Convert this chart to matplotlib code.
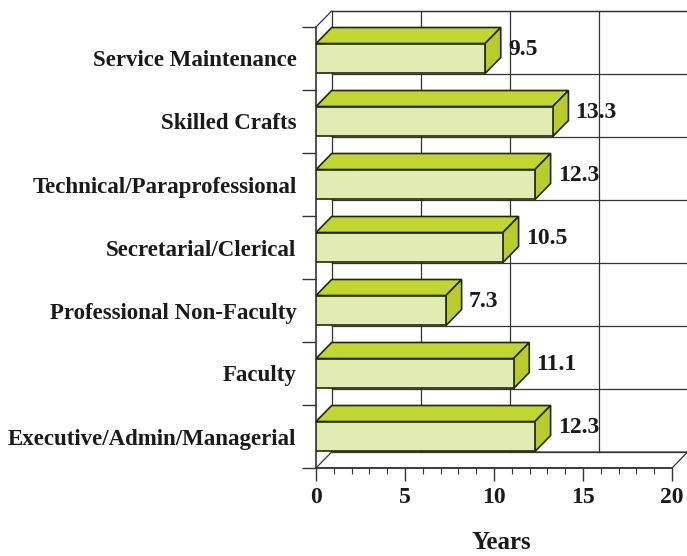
import numpy as np
import matplotlib
matplotlib.use("Agg")
from matplotlib import pyplot as plt
from matplotlib.patches import Polygon, Rectangle

# data, bottom to top
categories = ["Executive/Admin/Managerial", "Faculty", "Professional Non-Faculty",
              "Secretarial/Clerical", "Technical/Paraprofessional", "Skilled Crafts",
              "Service Maintenance"]
years = [12.3, 11.1, 7.3, 10.5, 12.3, 13.3, 9.5]
xticks = [0, 5, 10, 15, 20]

plt.rcParams["font.family"] = ["Liberation Serif", "DejaVu Serif"]
plt.rcParams["font.weight"] = "bold"

front_c = "#e2ebb3"
top_c = "#c3d52f"
side_c = "#b9cc2b"
edge_c = "#1d2a0b"
grid_c = "#333333"

dx = 0.88      # depth in x units
dy = 0.254     # depth in category units
h = 0.476      # bar thickness
n = len(categories)
ybot, ytop = -0.5, n - 0.5
xmax = 20

fig = plt.figure(figsize=(6.87, 5.56), dpi=100)
ax = fig.add_axes([316 / 687, 88 / 556, 1 - 316 / 687, (468 - 9) / 556])
ax.set_xlim(0, 371 / 17.8)
ax.set_ylim(ybot, ybot + 459 / 63)

# walls and floor
lw = 0.9
ax.plot([dx, xmax + dx], [ytop + dy, ytop + dy], color=grid_c, lw=lw, clip_on=False)
ax.plot([0, dx], [ytop, ytop + dy], color=grid_c, lw=lw, clip_on=False)
ax.plot([dx, dx], [ybot + dy, ytop + dy], color=grid_c, lw=lw, clip_on=False)
for k in range(n + 1):
    yb = ybot + k
    ax.plot([dx, xmax + dx], [yb + dy, yb + dy], color=grid_c, lw=lw, clip_on=False)
for xt in xticks[1:]:
    ax.plot([xt + dx, xt + dx], [ybot + dy, ytop + dy], color=grid_c, lw=lw, clip_on=False)
floor = Polygon([(0, ybot), (xmax, ybot), (xmax + dx, ybot + dy), (dx, ybot + dy)],
                closed=True, facecolor="white", edgecolor=grid_c, lw=lw, clip_on=False)
ax.add_patch(floor)
ax.plot([0, 0], [ybot, ytop], color=grid_c, lw=1.2, clip_on=False)

# bars
for i, v in enumerate(years):
    y0, y1 = i - h / 2, i + h / 2
    ax.add_patch(Polygon([(0, y1), (v, y1), (v + dx, y1 + dy), (dx, y1 + dy)],
                         closed=True, facecolor=top_c, edgecolor=edge_c, lw=1.2, zorder=3))
    ax.add_patch(Polygon([(v, y0), (v + dx, y0 + dy), (v + dx, y1 + dy), (v, y1)],
                         closed=True, facecolor=side_c, edgecolor=edge_c, lw=1.2, zorder=3))
    ax.add_patch(Rectangle((0, y0), v, h, facecolor=front_c, edgecolor=edge_c,
                           lw=1.2, zorder=4))
    ax.text(v + dx + 0.4, i + 0.15, f"{v}", ha="left", va="center",
            fontsize=17, fontweight="bold", color="#1a1a1a", zorder=5)

# axes
for s in ["top", "right", "left"]:
    ax.spines[s].set_visible(False)
ax.spines["bottom"].set_bounds(0, xmax)
ax.spines["bottom"].set_position(("data", ybot))
ax.spines["bottom"].set_color(grid_c)
ax.spines["bottom"].set_linewidth(1.2)

ax.set_xticks(xticks)
ax.set_xticks(np.arange(0, 21, 1), minor=True)
ax.tick_params(axis="x", which="major", length=9, width=1, color=grid_c,
               labelsize=17, pad=5)
ax.tick_params(axis="x", which="minor", length=4, width=0.8, color=grid_c)

ax.set_yticks(np.arange(ybot, ytop + 0.5, 1))
ax.set_yticks(np.arange(n), minor=True)
ax.set_yticklabels([])
ax.set_yticklabels(categories, minor=True)
ax.tick_params(axis="y", which="major", length=10, width=1, color=grid_c)
ax.tick_params(axis="y", which="minor", length=0, labelsize=16.5, pad=14)
for t in ax.get_yticklabels(minor=True) + ax.get_xticklabels():
    t.set_fontweight("bold")
    t.set_color("#1a1a1a")

ax.set_xlabel("Years", fontsize=18, fontweight="bold", labelpad=16, color="#1a1a1a")

fig.savefig("out.png", dpi=100)
